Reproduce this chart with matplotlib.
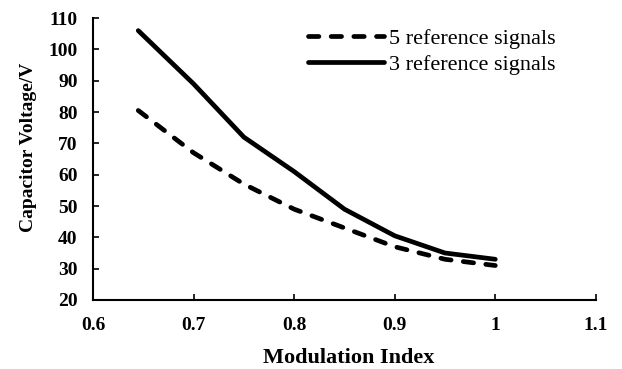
import matplotlib.pyplot as plt

# datos
mod_index = [0.645, 0.7, 0.75, 0.8, 0.85, 0.9, 0.95, 1.0]
v_5ref = [80.5, 67, 57, 49, 43, 37, 33, 31]
v_3ref = [106, 89, 72, 61, 49, 40.5, 35, 33]

xticks = [0.6, 0.7, 0.8, 0.9, 1.0, 1.1]
xtick_labels = ["0.6", "0.7", "0.8", "0.9", "1", "1.1"]
yticks = [20, 30, 40, 50, 60, 70, 80, 90, 100, 110]

plt.rcParams['font.family'] = ['Liberation Serif', 'DejaVu Serif']

fig = plt.figure(figsize=(6.22, 3.69), dpi=100)
ax = fig.add_axes([0.1495, 0.187, 0.8085, 0.764])

ax.plot(mod_index, v_5ref, color='black', lw=3.4, ls=(0, (2.2, 2.6)),
        dash_capstyle='round', label='5 reference signals')
ax.plot(mod_index, v_3ref, color='black', lw=3.4, solid_capstyle='round',
        label='3 reference signals')

ax.set_xlim(0.6, 1.1)
ax.set_ylim(20, 110)
ax.set_xticks(xticks)
ax.set_xticklabels(xtick_labels)
ax.set_yticks(yticks)
ax.tick_params(direction='in', length=4, width=1.2, labelsize=14)
for lbl in ax.get_xticklabels() + ax.get_yticklabels():
    lbl.set_fontweight('bold')
ax.tick_params(axis='x', pad=12)
ax.tick_params(axis='y', pad=11)

ax.spines['top'].set_visible(False)
ax.spines['right'].set_visible(False)
ax.spines['left'].set_linewidth(1.5)
ax.spines['bottom'].set_linewidth(1.5)

ax.set_xlabel('Modulation Index', fontsize=16, fontweight='bold')
ax.set_ylabel('Capacitor Voltage/V', fontsize=14, fontweight='bold')
ax.xaxis.set_label_coords(0.508, -0.172)
ax.yaxis.set_label_coords(-0.112, 0.543)

ax.legend(loc='upper right', bbox_to_anchor=(0.96, 1.035), frameon=False,
          fontsize=16, handlelength=3.4, handletextpad=0.25, labelspacing=0.25)

fig.savefig('out.png', dpi=100)
